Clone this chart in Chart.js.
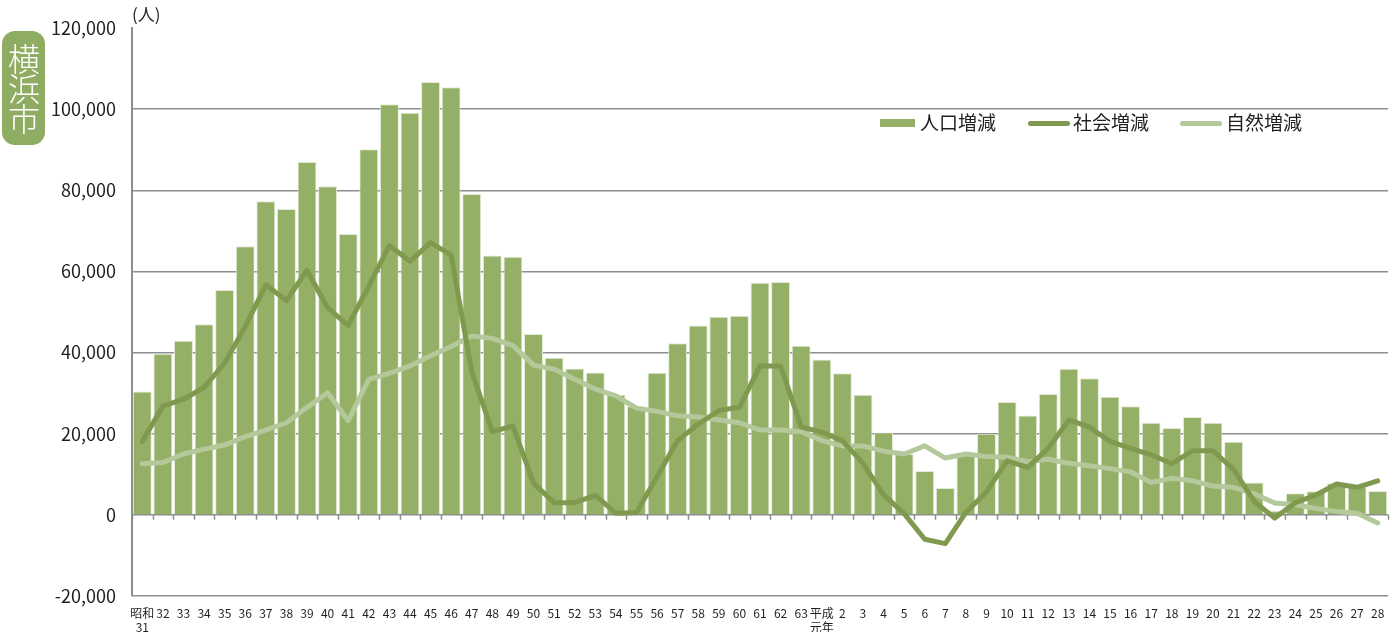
<!DOCTYPE html>
<html lang="ja">
<head>
<meta charset="utf-8">
<script src="https://cdn.jsdelivr.net/npm/chart.js@4/dist/chart.umd.min.js"></script>
<style>
  body { margin: 0; background: #fff; }
  #wrap { position: relative; width: 1399px; height: 632px; font-family: "Noto Sans CJK JP", sans-serif; color: #231f20; }
  #city {
    position: absolute; left: 2px; top: 31px; width: 43px; height: 114px;
    background: #8fac63; border-radius: 13px; color: #fff;
    font-size: 32px; line-height: 43px; writing-mode: vertical-rl; text-align: center;
    font-weight: 300; letter-spacing: -2px;
  }
  #unit { position: absolute; left: 132px; top: 1px; font-size: 17px; }
  .lg { position: absolute; top: 110px; font-size: 19px; line-height: 24px; }
  .sw { position: absolute; }
</style>
</head>
<body>
<div id="wrap">
  <canvas id="chart" width="1399" height="632"></canvas>
  <div id="city">横浜市</div>
  <div id="unit">(人)</div>
  <div class="sw" style="left:880px;top:119px;width:35px;height:8px;background:#93b066"></div>
  <div class="lg" style="left:920px">人口増減</div>
  <div class="sw" style="left:1028px;top:121px;width:42px;height:5px;border-radius:3px;background:#7f9a4e"></div>
  <div class="lg" style="left:1073px">社会増減</div>
  <div class="sw" style="left:1180px;top:121px;width:42px;height:5px;border-radius:3px;background:#b3c99b"></div>
  <div class="lg" style="left:1226px">自然増減</div>
</div>
<script>
// 年次ラベル（昭和31年〜平成28年）
const years = [
    ['昭和', '31'], '32', '33', '34', '35', '36', '37', '38', '39', '40',
    '41', '42', '43', '44', '45', '46', '47', '48', '49', '50',
    '51', '52', '53', '54', '55', '56', '57', '58', '59', '60',
    '61', '62', '63', ['平成', '元年'], '2', '3', '4', '5', '6', '7',
    '8', '9', '10', '11', '12', '13', '14', '15', '16', '17',
    '18', '19', '20', '21', '22', '23', '24', '25', '26', '27', '28'
];

// 人口増減
const populationChange = [
    30400, 39700, 42900, 47000, 55400, 66200, 77300, 75400, 87000, 81000,
    69200, 90100, 101200, 99100, 106700, 105400, 79100, 63900, 63600, 44600,
    38700, 36100, 35100, 29600, 26800, 35000, 42300, 46700, 48800, 49100,
    57200, 57400, 41700, 38300, 34900, 29600, 20300, 15000, 10800, 6600,
    15100, 20000, 27800, 24500, 29800, 36000, 33700, 29100, 26800, 22700,
    21400, 24100, 22700, 18000, 8000, 1000, 5300, 5800, 7800, 7000, 5900
];

// 社会増減
const socialChange = [
    18100, 26800, 28500, 31400, 37400, 46400, 56700, 52800, 60300, 51000,
    46700, 56400, 66400, 62500, 67100, 64000, 35300, 20500, 21900, 7800,
    3000, 3000, 4800, 400, 600, 9400, 18300, 22400, 25700, 26500,
    36700, 36700, 21700, 20400, 18300, 12700, 5000, 300, -6000, -7100,
    600, 5700, 13300, 11700, 16400, 23400, 21600, 18100, 16400, 14800,
    12600, 15800, 15800, 11200, 3300, -800, 3000, 4900, 7600, 6800, 8400
];

// 自然増減
const naturalChange = [
    12600, 12900, 15000, 16200, 17200, 19300, 20900, 22700, 26500, 30100,
    23200, 33400, 34900, 36700, 39200, 41500, 44100, 43500, 41700, 36900,
    35900, 33400, 31000, 29300, 26300, 25500, 24400, 24100, 23400, 22700,
    20900, 20900, 20500, 18300, 17000, 17000, 15700, 15000, 17000, 14000,
    15000, 14400, 14200, 13100, 13700, 12700, 12100, 11400, 10600, 8000,
    9000, 8400, 7100, 6800, 5200, 2900, 2500, 1600, 800, 400, -2000
];

const gridColor = '#8e8e8e';

// ゼロ線上の区切り目盛り
const zeroTicks = {
    id: 'zeroTicks',
    beforeDatasetsDraw(chart) {
        const x = chart.scales.x;
        const y0 = chart.scales.y.getPixelForValue(0);
        const step = (x.right - x.left) / years.length;
        const ctx = chart.ctx;
        ctx.save();
        ctx.strokeStyle = gridColor;
        ctx.lineWidth = 1.5;
        ctx.beginPath();
        for (let i = 0; i <= years.length; i++) {
            const px = Math.round(x.left + step * i) + 0.5;
            ctx.moveTo(px, y0);
            ctx.lineTo(px, y0 + 5);
        }
        ctx.stroke();
        ctx.restore();
    }
};

new Chart(document.getElementById('chart'), {
    data: {
        labels: years,
        datasets: [{
            type: 'line',
            label: '社会増減',
            data: socialChange,
            borderColor: '#7f9a4e',
            borderWidth: 5,
            pointRadius: 0,
            tension: 0,
            borderJoinStyle: 'round',
            borderCapStyle: 'round',
            order: 1
        }, {
            type: 'line',
            label: '自然増減',
            data: naturalChange,
            borderColor: '#b3c99b',
            borderWidth: 5,
            pointRadius: 0,
            tension: 0,
            borderJoinStyle: 'round',
            borderCapStyle: 'round',
            order: 2
        }, {
            type: 'bar',
            label: '人口増減',
            data: populationChange,
            backgroundColor: '#93b066',
            borderColor: '#e4ebd8',
            borderWidth: { top: 1, left: 1, right: 1, bottom: 0 },
            categoryPercentage: 1,
            barPercentage: 0.92,
            order: 3
        }]
    },
    options: {
        responsive: false,
        animation: false,
        layout: { padding: { top: 28, right: 11, left: 0, bottom: 0 } },
        plugins: {
            legend: { display: false },
            tooltip: { enabled: false }
        },
        scales: {
            x: {
                offset: true,
                grid: { display: false },
                border: { display: false },
                afterFit(scale) { scale.height = 36; },
                ticks: {
                    autoSkip: false,
                    maxRotation: 0,
                    padding: 2,
                    color: '#231f20',
                    font: { family: '"Noto Sans CJK JP"', size: 12, lineHeight: 1.2 }
                }
            },
            y: {
                min: -20000,
                max: 120000,
                afterFit(scale) { scale.width = 132; },
                border: { display: true, color: gridColor, width: 2 },
                grid: {
                    drawTicks: false,
                    lineWidth: 1.5,
                    color: ctx => ctx.tick && ctx.tick.value === 120000 ? 'rgba(0,0,0,0)' : gridColor
                },
                ticks: {
                    stepSize: 20000,
                    padding: 16,
                    color: '#231f20',
                    font: { family: '"Noto Sans CJK JP"', size: 18 },
                    callback: v => v.toLocaleString('en-US')
                }
            }
        }
    },
    plugins: [zeroTicks]
});
</script>
</body>
</html>
